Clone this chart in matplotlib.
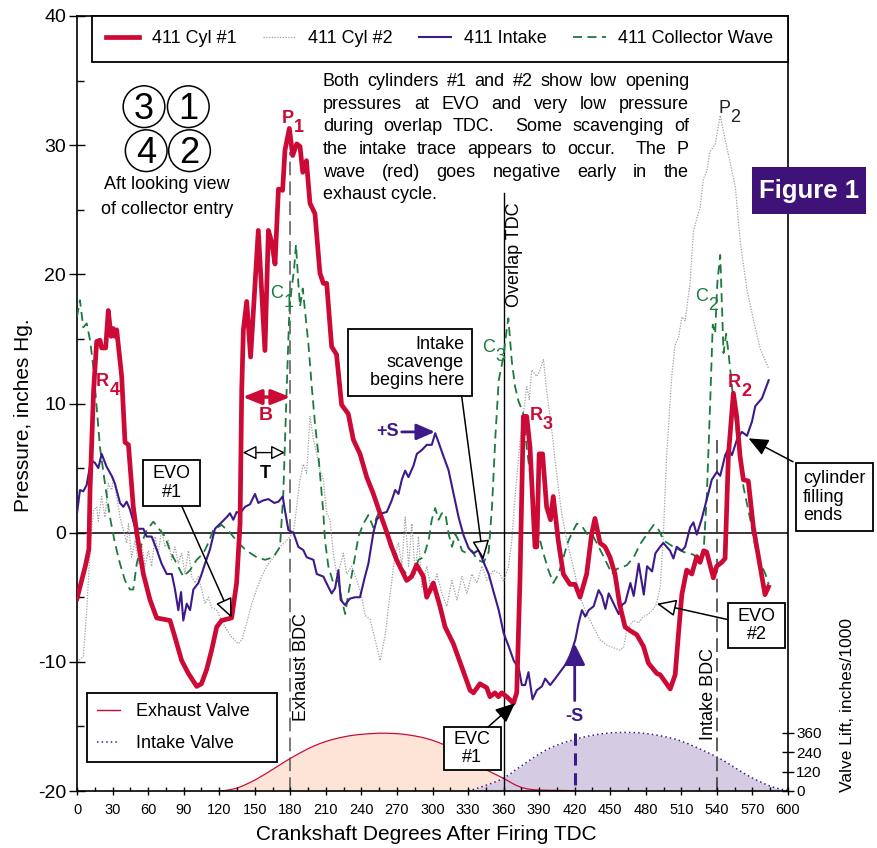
import re
import matplotlib
matplotlib.use("Agg")
import matplotlib.pyplot as plt
from matplotlib.lines import Line2D
from matplotlib.patches import Ellipse, Rectangle

plt.rcParams['font.family'] = ['Liberation Sans', 'DejaVu Sans']
plt.rcParams['axes.unicode_minus'] = False

RED = '#cc0a35'
PURPLE = '#3d1a8a'
GREEN = '#1b7a3e'
GRAY = '#a0a0a0'
PEACH = '#fde4d6'
LAVENDER = '#d5cce3'
BOXPURPLE = '#3f1278'

# ---- pressure traces (crank degrees, inches Hg) ----
cyl1_deg = [0, 7, 10, 11, 14, 16.6, 19.4, 20.8, 24.2, 26.4, 28.7, 30.7, 32, 33.5, 37.7, 40.5, 43.4, 47.5, 50.4, 56,
            61.6, 67.2, 78.5, 82.7, 88.3, 94, 101, 105, 109.4, 113.6, 117.9, 122, 130.5, 134.7, 137.6, 139, 140.4,
            143.2, 146.5, 153, 158.6, 161.5, 164.3, 167.1, 170, 173.5, 175.5, 179.2, 182, 185.4, 188.2, 190.5, 193.6,
            196.6, 200.8, 205, 207.9, 210.7, 214.9, 219, 223.3, 228.9, 233.2, 238.8, 244.5, 250.1, 255.7, 260, 265.5,
            269.7, 278.2, 282.4, 286.6, 292.3, 295.1, 300.7, 306.3, 310.6, 317.6, 324.7, 331.7, 334.6, 340, 345.7,
            348.5, 352.7, 355.6, 358.4, 362.6, 368.3, 371.1, 373.8, 376.7, 379.5, 382.3, 386.5, 388, 390, 392.9,
            396.3, 399.6, 401.9, 406.1, 410.4, 416, 420.3, 424.5, 430.1, 434.3, 437.1, 441.4, 445.6, 449.8, 454, 458,
            462.5, 467, 472.4, 478, 482.2, 489.3, 492.1, 500.6, 504.8, 507.6, 510.4, 514.5, 518.8, 523, 525.8, 528.9,
            531.4, 537, 539.8, 544, 546.9, 549.7, 553.9, 556.7, 559.5, 562.3, 566.5, 570.8, 576.4, 580.6, 583.5]
cyl1_p = [-5.1, -2.6, -1.3, 3.3, 11.0, 14.8, 14.9, 14.3, 14.3, 17.2, 15.2, 15.8, 15.2, 15.7, 12.1, 7.0, 6.8, 2.0, 0.0,
          -3.2, -5.2, -6.6, -6.8, -8.1, -9.9, -10.9, -11.9, -11.7, -10.6, -9.1, -7.3, -6.8, -6.6, -3.9, 0.7, 11.0,
          15.7, 17.9, 13.6, 23.4, 14.1, 23.4, 22.5, 20.8, 26.6, 26.5, 29.6, 31.3, 29.2, 30.1, 29.9, 27.9, 28.8, 25.5,
          24.7, 20.1, 19.3, 19.3, 14.4, 13.8, 9.9, 9.2, 7.2, 6.1, 4.3, 3.0, 1.5, 0.4, -1.1, -2.1, -3.7, -3.4, -2.5,
          -3.4, -5.0, -3.9, -5.7, -7.3, -8.6, -10.4, -12.2, -12.4, -11.7, -12.0, -12.7, -12.4, -12.7, -12.4, -12.7,
          -13.2, -12.4, -3.7, 9.0, 9.0, 6.6, -1.1, -1.1, 6.1, 6.1, 2.0, 1.0, 2.8, -0.6, -3.2, -4.0, -4.0, -5.0, -3.2,
          -0.1, 1.1, -0.8, -1.1, -1.9, -3.2, -5.6, -7.3, -7.6, -7.9, -8.8, -10.1, -10.9, -11.0, -12.1, -11.0, -7.8,
          -4.8, -2.9, -3.2, -1.85, -2.3, -1.4, -1.5, -3.5, -2.6, -2.3, -2.0, 5.95, 10.8, 9.0, 5.95, 4.1, 4.0, 0.4,
          -2.6, -4.8, -4.2]

cyl2_deg = [0, 5.3, 8.2, 11, 13.8, 16.6, 18, 20.8, 23.6, 26.4, 29.3, 30.7, 33.5, 36.3, 39.1, 41.9, 43.4, 46.1, 49,
            51.8, 54.6, 57.4, 60.2, 63, 65.8, 68.6, 71.4, 74.3, 77.1, 79.9, 82.7, 85.5, 88.3, 91.1, 94, 96.8, 99.6,
            102.4, 105.2, 108, 110.8, 113.6, 117.9, 122, 126.3, 130.5, 136.2, 139, 143.2, 147.4, 151.6, 155.8, 160.1,
            164.3, 171.3, 177, 182.6, 185.4, 188.2, 191, 193.8, 196.6, 199.5, 202.3, 205.1, 207.9, 210.7, 213.5,
            216.3, 219.2, 222, 224.8, 227.6, 231.8, 236.1, 240.3, 243.1, 247.3, 251.6, 255.8, 260, 262.9, 265.7,
            268.5, 271.3, 274.1, 277, 279.8, 282.6, 285.4, 288.2, 291, 295.2, 299.4, 303.7, 307.9, 312.1, 316.3,
            320.6, 324.8, 329, 333.2, 337.5, 341.7, 345.9, 351.3, 357, 359.8, 364, 366.9, 369.7, 374, 376.7, 379.5,
            381.7, 383.7, 388, 390.7, 393.6, 396.3, 400.6, 404.8, 409, 413.3, 418.9, 424.5, 430.1, 435.8, 441.4, 447,
            452.7, 458.3, 461.2, 464, 469.6, 473.8, 478, 482.3, 486.5, 489, 492.2, 494.8, 497.6, 501.9, 504.6, 507.6,
            510.4, 513.2, 517.4, 520.3, 525.8, 528.7, 531.5, 534.3, 538.6, 542.8, 547, 551.3, 555.5, 559.7, 565.4,
            571, 576.7, 583.7]
cyl2_p = [-10.0, -9.6, -6.0, -1.4, 1.7, 2.0, 0.9, 2.8, 1.2, 3.8, 3.3, 4.3, 2.8, 1.2, 0.2, -0.8, 0.7, -1.9, -0.6, -2.4,
          -0.8, -2.6, -1.4, -2.6, -0.3, -1.6, 0.2, -1.1, -0.6, -2.1, -1.1, -2.4, -1.6, -3.2, -1.4, -3.4, -3.9, -3.4,
          -4.4, -5.5, -5.0, -5.8, -6.0, -6.8, -7.5, -8.1, -8.6, -8.3, -7.0, -5.5, -4.4, -3.4, -2.6, -2.1, -1.1, -0.6,
          0.0, 2.0, 4.1, 5.3, 4.6, 9.0, 7.2, 6.1, 4.8, 4.1, 1.5, 1.0, -1.6, -3.2, -2.6, -1.6, -3.2, -2.6, -3.7, -5.0,
          -6.4, -6.7, -8.3, -9.9, -8.0, -5.7, -3.7, -1.6, -0.8, -2.6, 1.2, -2.6, 0.7, -3.2, -0.3, -4.2, -2.6, -4.7,
          -3.2, -4.7, -5.7, -3.7, -5.2, -3.4, -4.7, -3.2, -3.9, -2.6, -3.7, -2.9, -3.2, -3.8, -2.7, -0.6, 2.8, 7.2,
          9.2, 11.3, 10.3, 12.6, 12.1, 12.6, 13.4, 11.0, 8.0, 4.5, 1.5, -0.6, -2.7, -5.0, -6.3, -7.3, -8.3, -8.7,
          -8.9, -9.1, -8.9, -7.5, -6.8, -7.0, -6.5, -6.3, -5.9, -5.5, -4.2, -0.2, 6.0, 12.1, 14.5, 15.1, 16.7, 16.4,
          19.4, 23.4, 25.2, 27.4, 28.0, 29.5, 30.1, 32.3, 30.4, 28.6, 26.8, 22.5, 18.8, 16.4, 14.2, 12.7]

intake_deg = [0, 2.5, 5.3, 8.2, 11.8, 15.2, 18, 20.8, 25, 29.3, 32, 36.3, 39.1, 41.9, 44.7, 49, 51.8, 56, 58.8, 63,
              67.2, 71.4, 75.7, 80, 82.7, 85.5, 87.8, 89.7, 92.6, 95.4, 98.2, 102.4, 105.2, 108, 112.2, 116.4, 122,
              126.3, 129.1, 131.9, 134.7, 137.6, 141.8, 146, 150.2, 153, 157.2, 161.5, 166.5, 170, 173.6, 175.5,
              178.4, 182.6, 186.8, 191, 193.8, 199.5, 202.3, 207.9, 212.1, 214.9, 217.8, 220.6, 222.5, 226.1, 230.4,
              234.6, 238.8, 243, 245.9, 250.1, 252.9, 257.2, 261.4, 265.6, 268.5, 271.3, 274.1, 276.9, 279.7, 284,
              286.8, 291, 295.2, 299.4, 302.3, 305.1, 309.3, 313.5, 317.8, 322, 326.2, 330.5, 334.7, 338.9, 343.2,
              347.4, 351.6, 355.9, 360.1, 364.3, 368.5, 372.8, 375.4, 378.2, 381, 384.4, 388, 392.3, 395.1, 399.3,
              403.5, 409.2, 414.8, 420.5, 423.3, 426.1, 428.9, 431.8, 436, 440.2, 443, 445.9, 448.7, 452.9, 457.1,
              459.9, 462.7, 467, 469.8, 474, 478.3, 481.1, 485.3, 488.1, 492, 494.8, 497.6, 500.5, 503.3, 506.1,
              510.4, 513.2, 517.4, 520.2, 523, 527.3, 531.5, 535.7, 540, 542.8, 547, 549.8, 552.7, 556.9, 561.1,
              565.4, 569.6, 572.4, 578, 583.7]
intake_p = [1.5, 3.3, 3.2, 3.7, 5.6, 5.4, 5.0, 6.1, 5.1, 4.4, 3.8, 2.3, 2.0, 2.4, 1.8, 0.4, 0.3, 0.3, -0.3, -0.3, -1.3,
            -2.4, -3.2, -3.2, -4.4, -6.0, -4.6, -6.8, -5.5, -6.0, -4.4, -3.9, -3.2, -2.4, -1.3, 0.3, 0.8, 1.2, 1.5,
            1.0, 1.6, 1.5, 2.0, 2.2, 3.0, 2.3, 2.5, 2.6, 2.3, 2.4, 2.8, 1.7, 0.2, 0.0, -1.1, -1.35, -1.9, -2.1, -3.2,
            -3.4, -4.2, -4.7, -4.3, -2.9, -5.2, -5.6, -5.1, -5.0, -5.0, -3.4, -2.4, 0.0, 1.0, 1.5, 1.6, 2.5, 3.3, 3.0,
            4.1, 4.8, 4.3, 5.2, 6.1, 6.4, 6.8, 6.8, 7.7, 7.0, 5.9, 4.85, 3.0, 1.2, -0.2, -1.2, -1.6, -1.35, -2.3,
            -3.2, -4.6, -6.0, -7.8, -8.8, -9.9, -10.5, -11.8, -11.8, -10.8, -12.9, -12.2, -11.9, -11.3, -11.8, -11.3,
            -10.6, -9.9, -8.3, -7.0, -6.0, -6.5, -6.0, -5.7, -4.45, -4.9, -5.9, -4.7, -5.5, -6.3, -5.6, -5.4, -3.9,
            -4.9, -2.4, -4.8, -2.6, -3.0, -1.6, -1.1, -0.8, -1.1, -1.4, -2.0, -1.1, -1.4, -1.1, 0.4, 0.8, -0.15, 1.1,
            2.6, 4.1, 4.7, 4.4, 6.0, 6.5, 6.0, 7.2, 7.8, 7.5, 8.6, 9.8, 10.4, 11.8]

coll_deg = [0, 2.5, 5.3, 8.2, 11, 13.8, 16.6, 19.4, 23.6, 27.8, 32, 36.3, 40.5, 44.7, 47.5, 50.4, 54.6, 58.8, 64.4, 70,
            74.3, 78.5, 84.1, 89.7, 95.4, 101, 106.6, 110.8, 115, 122, 129.1, 136.2, 143.2, 151.6, 158.7, 165.7,
            171.3, 174.1, 176.9, 179.2, 181.2, 183.1, 184.8, 186.8, 188.2, 190.5, 192.4, 195.3, 198.1, 200.8, 203.7,
            207.9, 209.3, 212.1, 216.3, 220.6, 223.4, 226.3, 229, 233.2, 237.5, 241.7, 245.9, 250.1, 252.9, 255.7,
            258.6, 261.4, 264.2, 268.5, 271.3, 275.5, 279.7, 284, 288.2, 292.4, 296.7, 299.4, 302.3, 305.1, 307.9,
            310.8, 313.6, 316.5, 319.2, 322, 324.9, 329.1, 333.3, 337.6, 343.2, 347.4, 350.2, 353.1, 355.9, 359.8,
            362.6, 364, 366.9, 369.7, 372.5, 376.7, 379.5, 382.3, 385.2, 389.4, 393.6, 397.8, 402, 406.3, 410.5,
            414.8, 419, 421.8, 426.1, 430.4, 434.6, 438.8, 443, 447.3, 451.5, 455.7, 459.9, 464.2, 469.8, 475.5,
            481.1, 486.7, 491, 495, 503.3, 512, 520.2, 525.8, 529, 531.5, 534.3, 536.5, 538.5, 540.4, 542.8, 544.2,
            545.6, 547.8, 549.8, 554, 558.2, 562.5, 568, 572.4, 576.7, 580.9, 583.7]
coll_p = [16.7, 18.0, 15.9, 16.2, 14.9, 12.8, 9.7, 6.6, 3.8, 1.2, -0.8, -2.4, -3.7, -4.4, -4.4, -2.4, -0.8, 0.2, 0.85,
          0.2, -0.3, -1.4, -2.4, -3.4, -2.9, -2.1, -1.6, -0.8, 0.2, 0.6, 0.0, -0.8, -1.4, -1.9, -2.1, -1.9, -1.1, 3.0,
          11.0, 17.2, 19.0, 20.3, 22.3, 19.3, 17.5, 18.9, 17.2, 14.6, 11.3, 8.5, 6.0, 1.5, -0.6, -2.6, -3.9, -3.7,
          -5.2, -6.3, -4.7, -2.6, -0.3, 0.7, 1.36, 0.4, 1.2, 1.7, 0.96, -0.1, -1.1, -1.35, -2.4, -2.9, -3.4, -3.2,
          -2.1, -1.9, -0.6, 1.0, 1.9, 1.0, 1.5, 1.5, -0.1, -1.1, -0.1, -0.6, -1.4, -1.6, -1.4, -2.1, -2.3, -1.5, 2.0,
          7.5, 11.8, 13.6, 15.7, 16.6, 13.3, 11.3, 10.2, 9.2, 6.6, 4.6, 1.5, -0.1, -1.6, -2.9, -3.9, -3.2, -1.9,
          -0.6, 0.2, 0.7, 0.5, -0.1, -0.1, -0.85, -1.6, -2.4, -3.2, -2.8, -2.7, -2.5, -1.9, -0.85, -0.1, 0.6, 0.2,
          -0.6, -1.1, -1.5, -1.7, -2.2, -1.1, 2.9, 10.0, 16.1, 15.4, 19.4, 21.5, 17.6, 13.9, 15.4, 13.9, 10.2, 6.5,
          3.5, 1.1, -1.1, -2.3, -3.2, -4.0]

# ---- valve lift (inches/1000) ----
exh_deg = [120, 125, 130, 135, 140, 145, 150, 155, 160, 165, 170, 175, 180, 185, 190, 195, 200, 205, 210, 215, 220,
           225, 230, 235, 240, 245, 250, 255, 260, 265, 270, 275, 280, 285, 290, 295, 300, 305, 310, 315, 320, 325,
           330, 335, 340, 345, 350, 355, 360, 365, 370, 375, 380, 385, 390, 400, 410, 420]
exh_lift = [0, 3, 9, 18, 32, 49, 67, 88, 110, 133, 156, 179, 201, 222, 242, 261, 278, 293, 306, 317, 326, 334, 341,
            346, 350, 353, 355, 357, 357, 356, 354, 351, 346, 340, 333, 324, 313, 300, 285, 267, 246, 223, 199, 175,
            150, 132, 114, 96, 78, 57, 37, 22, 13, 8, 6, 4, 3, 2]
int_deg = [330, 335, 340, 345, 350, 355, 360, 365, 370, 375, 380, 385, 390, 395, 400, 405, 410, 415, 420, 425, 430,
           435, 440, 445, 450, 455, 460, 465, 470, 475, 480, 485, 490, 495, 500, 505, 510, 515, 520, 525, 530, 535,
           540, 545, 550, 555, 560, 565, 570, 575, 580, 585, 590, 595, 600]
int_lift = [5, 10, 22, 35, 48, 62, 80, 102, 130, 155, 180, 205, 228, 250, 268, 283, 297, 308, 318, 328, 337, 344,
            350, 355, 359, 361, 362, 362, 361, 359, 355, 350, 344, 337, 329, 320, 308, 294, 278, 262, 245, 228, 210,
            190, 168, 145, 122, 100, 80, 62, 45, 30, 18, 10, 5]

W, H = 877, 848


def fx(px):
    return px / W


def fy(py):
    return 1 - py / H


fig = plt.figure(figsize=(W / 100, H / 100), dpi=100)
ax = fig.add_axes([fx(77), fy(791), 711 / W, 775 / H])
ax2 = ax.twinx()
ax.set_zorder(ax2.get_zorder() + 1)
ax.patch.set_visible(False)
renderer = fig.canvas.get_renderer()

# valve lift on the secondary axis
ax2.fill_between(exh_deg, exh_lift, color=PEACH, lw=0)
ax2.fill_between(int_deg, int_lift, color=LAVENDER, lw=0)
ax2.plot(exh_deg, exh_lift, color=RED, lw=0.9)
ax2.plot(int_deg, int_lift, color=PURPLE, lw=1.1, ls=(0, (1, 2)))
ax2.set_ylim(0, 4786)
ax2.set_yticks([0, 120, 240, 360])
ax2.tick_params(axis='y', direction='inout', length=8, width=1, labelsize=11, pad=2)
for s in ax2.spines.values():
    s.set_visible(False)

# pressure traces
ax.plot(cyl2_deg, cyl2_p, color=GRAY, lw=0.9, ls=(0, (1, 1.2)), zorder=2)
ax.plot(coll_deg, coll_p, color=GREEN, lw=1.3, ls=(0, (5, 3)), zorder=3)
ax.plot(intake_deg, intake_p, color=PURPLE, lw=1.5, zorder=4)
ax.plot(cyl1_deg, cyl1_p, color=RED, lw=3.4, zorder=5)

ax.set_xlim(0, 600)
ax.set_ylim(-20, 40)
ax.set_xticks(range(0, 601, 30))
ax.set_xticks(range(15, 600, 30), minor=True)
ax.set_yticks(range(-20, 41, 10))
ax.set_yticks(range(-15, 40, 10), minor=True)
ax.tick_params(axis='x', which='major', direction='inout', length=6, width=1, labelsize=10.5, pad=6)
ax.tick_params(axis='x', which='minor', direction='in', length=3, width=1)
ax.tick_params(axis='y', which='major', direction='inout', length=12, width=1, labelsize=14, pad=2)
ax.tick_params(axis='y', which='minor', direction='in', length=5, width=1)
for s in ax.spines.values():
    s.set_linewidth(1.2)

ax.set_xlabel('Crankshaft Degrees After Firing TDC', fontsize=15, va='top')
ax.xaxis.set_label_coords(0.492, -0.044)
ax.set_ylabel('Pressure, inches Hg.', fontsize=15)
ax.yaxis.set_label_coords(-0.062, 0.485)
fig.text(fx(848), fy(705), 'Valve Lift, inches/1000', rotation=90, ha='center', va='center', fontsize=12.5)

# reference lines
ax.axhline(0, color='black', lw=1.1, zorder=1)
ax.plot([180, 180], [-20, 29.5], color='#555555', lw=1.1, ls=(0, (9, 4)), zorder=1)
ax.plot([360, 360], [-20, 26.3], color='black', lw=1.0, zorder=1)
ax.plot([540, 540], [-20, 7.2], color='#333333', lw=1.1, ls=(0, (9, 4)), zorder=1)
ax.text(189.6, -10.4, 'Exhaust BDC', rotation=90, ha='center', va='center', fontsize=13)
ax.text(368.8, 21.5, 'Overlap TDC', rotation=90, ha='center', va='center', fontsize=13)
ax.text(532.5, -12.5, 'Intake BDC', rotation=90, ha='center', va='center', fontsize=13)

# legends
leg1 = ax.legend(handles=[Line2D([], [], color=RED, lw=3.4),
                          Line2D([], [], color=GRAY, lw=0.9, ls=(0, (1, 1.2))),
                          Line2D([], [], color=PURPLE, lw=1.5),
                          Line2D([], [], color=GREEN, lw=1.3, ls=(0, (5, 3)))],
                 labels=['411 Cyl #1', '411 Cyl #2', '411 Intake', '411 Collector Wave'],
                 ncol=4, mode='expand', loc='upper left', bbox_to_anchor=(0.021, 0.938, 0.979, 0.062),
                 borderaxespad=0, fontsize=13, handlelength=1.8, handletextpad=0.7, borderpad=0.8,
                 fancybox=False, framealpha=1, edgecolor='black')
leg1.get_frame().set_linewidth(1.3)
ax.add_artist(leg1)
leg2 = ax.legend(handles=[Line2D([], [], color=RED, lw=1.0),
                          Line2D([], [], color=PURPLE, lw=1.1, ls=(0, (1, 2)))],
                 labels=['Exhaust Valve', 'Intake Valve'],
                 loc='lower left', bbox_to_anchor=(0.014, 0.037, 0.267, 0.089), mode='expand',
                 borderaxespad=0, fontsize=13, handlelength=1.3, handletextpad=0.85, borderpad=0.55,
                 labelspacing=0.85, fancybox=False, framealpha=1, edgecolor='black')
leg2.get_frame().set_linewidth(1.3)


# subscript labels: the subscript starts where the base letter ends
def sub_label(x, y, base, sub, color, weight='normal'):
    t = ax.text(x, y, base, color=color, fontsize=13, fontweight=weight, ha='left', va='baseline', zorder=6)
    dx = t.get_window_extent(renderer).width * 72 / fig.dpi
    ax.annotate(sub, (x, y), xytext=(dx + 0.3, -6.5), textcoords='offset points', color=color, fontsize=13,
                fontweight=weight, ha='left', va='baseline', zorder=6)


sub_label(172.5, 31.7, 'P', '1', RED, 'bold')
sub_label(541.0, 32.5, 'P', '2', '#222222')
sub_label(16.0, 11.35, 'R', '4', RED, 'bold')
sub_label(381.8, 8.7, 'R', '3', RED, 'bold')
sub_label(549.5, 11.3, 'R', '2', RED, 'bold')
sub_label(162.8, 18.2, 'C', '1', GREEN)
sub_label(521.5, 17.95, 'C', '2', GREEN)
sub_label(341.5, 14.0, 'C', '3', GREEN)

# B, T, +S, -S markers
ax.annotate('', xy=(139.8, 10.5), xytext=(180, 10.5),
            arrowprops=dict(arrowstyle='<|-|>,head_length=0.7,head_width=0.28', color=RED, lw=2.5,
                            shrinkA=0, shrinkB=0, mutation_scale=16), zorder=6)
ax.text(159.1, 9.1, 'B', color=RED, fontsize=14, fontweight='bold', ha='center', va='center')
ax.annotate('', xy=(139.8, 6.2), xytext=(175.5, 6.2),
            arrowprops=dict(arrowstyle='<|-|>,head_length=0.6,head_width=0.3', fc='white', ec='black', lw=1,
                            shrinkA=0, shrinkB=0, mutation_scale=14), zorder=6)
ax.text(158.6, 4.6, 'T', color='black', fontsize=13, fontweight='bold', ha='center', va='center')
ax.text(262, 7.8, '+S', color=PURPLE, fontsize=13, fontweight='bold', ha='center', va='center')
ax.annotate('', xy=(302, 7.8), xytext=(274, 7.8),
            arrowprops=dict(arrowstyle='-|>,head_length=0.8,head_width=0.35', color=PURPLE, lw=2,
                            shrinkA=0, shrinkB=0, mutation_scale=14), zorder=6)
ax.text(419.4, -14.25, '-S', color=PURPLE, fontsize=13, fontweight='bold', ha='center', va='center')
ax.annotate('', xy=(420, -8.6), xytext=(420, -13.0),
            arrowprops=dict(arrowstyle='-|>,head_length=0.8,head_width=0.4', color=PURPLE, lw=2,
                            shrinkA=0, shrinkB=0, mutation_scale=16), zorder=6)
ax.plot([420, 420], [-15.5, -20], color=PURPLE, lw=2.2, ls=(0, (4, 2.5)), zorder=6)


# boxed call-outs
def callout(x0, x1, y0, y1, text, tx, ha, start, tip, filled):
    ax.add_patch(Rectangle((x0, y1), x1 - x0, y0 - y1, fc='white', ec='black', lw=1.3, zorder=7,
                           clip_on=False))
    ax.text(tx, (y0 + y1) / 2, text, ha=ha, va='center', multialignment=ha, fontsize=13, linespacing=1.1,
            zorder=8, clip_on=False)
    ax.annotate('', xy=tip, xytext=start, annotation_clip=False,
                arrowprops=dict(arrowstyle='-|>,head_length=0.8,head_width=0.35',
                                fc='black' if filled else 'white', ec='black', lw=1.1,
                                shrinkA=0, shrinkB=0, mutation_scale=15), zorder=7)


callout(55.7, 103.8, 5.62, 2.06, 'EVO\n#1', 79.7, 'center', (88.4, 2.06), (130.5, -6.6), False)
callout(228.7, 333.3, 15.75, 10.57, 'Intake\nscavenge\nbegins here', 326.6, 'right', (324.6, 10.57),
        (342.9, -2.1), False)
callout(309.7, 357.6, -15.05, -18.37, 'EVC\n#1', 333.6, 'center', (346.8, -15.05), (369.6, -13.2), True)
callout(549.4, 597.5, -5.45, -8.93, 'EVO\n#2', 573.4, 'center', (548.3, -6.71), (489.2, -5.5), False)
callout(606.8, 671.7, 5.39, 0.12, 'cylinder\nfilling\nends', 612.7, 'left', (604.2, 5.49), (566.7, 7.3), True)

# collector diagram
for (cx, cy, num) in [(144, 106.7, '3'), (188.3, 106.7, '1'), (146.2, 150.7, '4'), (189.5, 150.7, '2')]:
    fig.patches.append(Ellipse((fx(cx), fy(cy)), 41.7 / W, 41.7 / H, transform=fig.transFigure,
                               fc='none', ec='black', lw=1.1))
    fig.text(fx(cx), fy(cy + 12.5), num, ha='center', va='baseline', fontsize=26)
fig.text(fx(167), fy(189), 'Aft looking view', ha='center', va='baseline', fontsize=13)
fig.text(fx(167), fy(214), 'of collector entry', ha='center', va='baseline', fontsize=13)

# Figure 1 tag
fig.patches.append(Rectangle((fx(752), fy(214)), 114 / W, 47 / H, transform=fig.transFigure,
                             fc=BOXPURPLE, ec='none', zorder=10))
fig.text(fx(809), fy(191), 'Figure 1', ha='center', va='center', color='white', fontsize=18.5,
         fontweight='bold', zorder=11)

# justified note
para_lines = [
    'Both cylinders #1 and #2 show low opening',
    'pressures at EVO and very low pressure',
    'during overlap TDC.  Some scavenging of',
    'the intake trace appears to occur.  The P',
    'wave (red) goes negative early in the',
    'exhaust cycle.',
]
x_left, x_right = 323, 689
for i, line in enumerate(para_lines):
    base_y = 86 + i * 22.66
    if i == len(para_lines) - 1:
        fig.text(fx(x_left), fy(base_y), line, fontsize=13, va='baseline', ha='left')
        continue
    tokens = re.split(r'( +)', line)
    words = tokens[0::2]
    spaces = [len(s) for s in tokens[1::2]]
    texts = [fig.text(0, 0, w, fontsize=13, va='baseline', ha='left') for w in words]
    widths = [t.get_window_extent(renderer).width for t in texts]
    unit = (x_right - x_left - sum(widths)) / sum(spaces)
    x = x_left
    for j, (t, w) in enumerate(zip(texts, widths)):
        t.set_position((fx(x), fy(base_y)))
        if j < len(spaces):
            x += w + unit * spaces[j]

fig.savefig('out.png', dpi=100)
